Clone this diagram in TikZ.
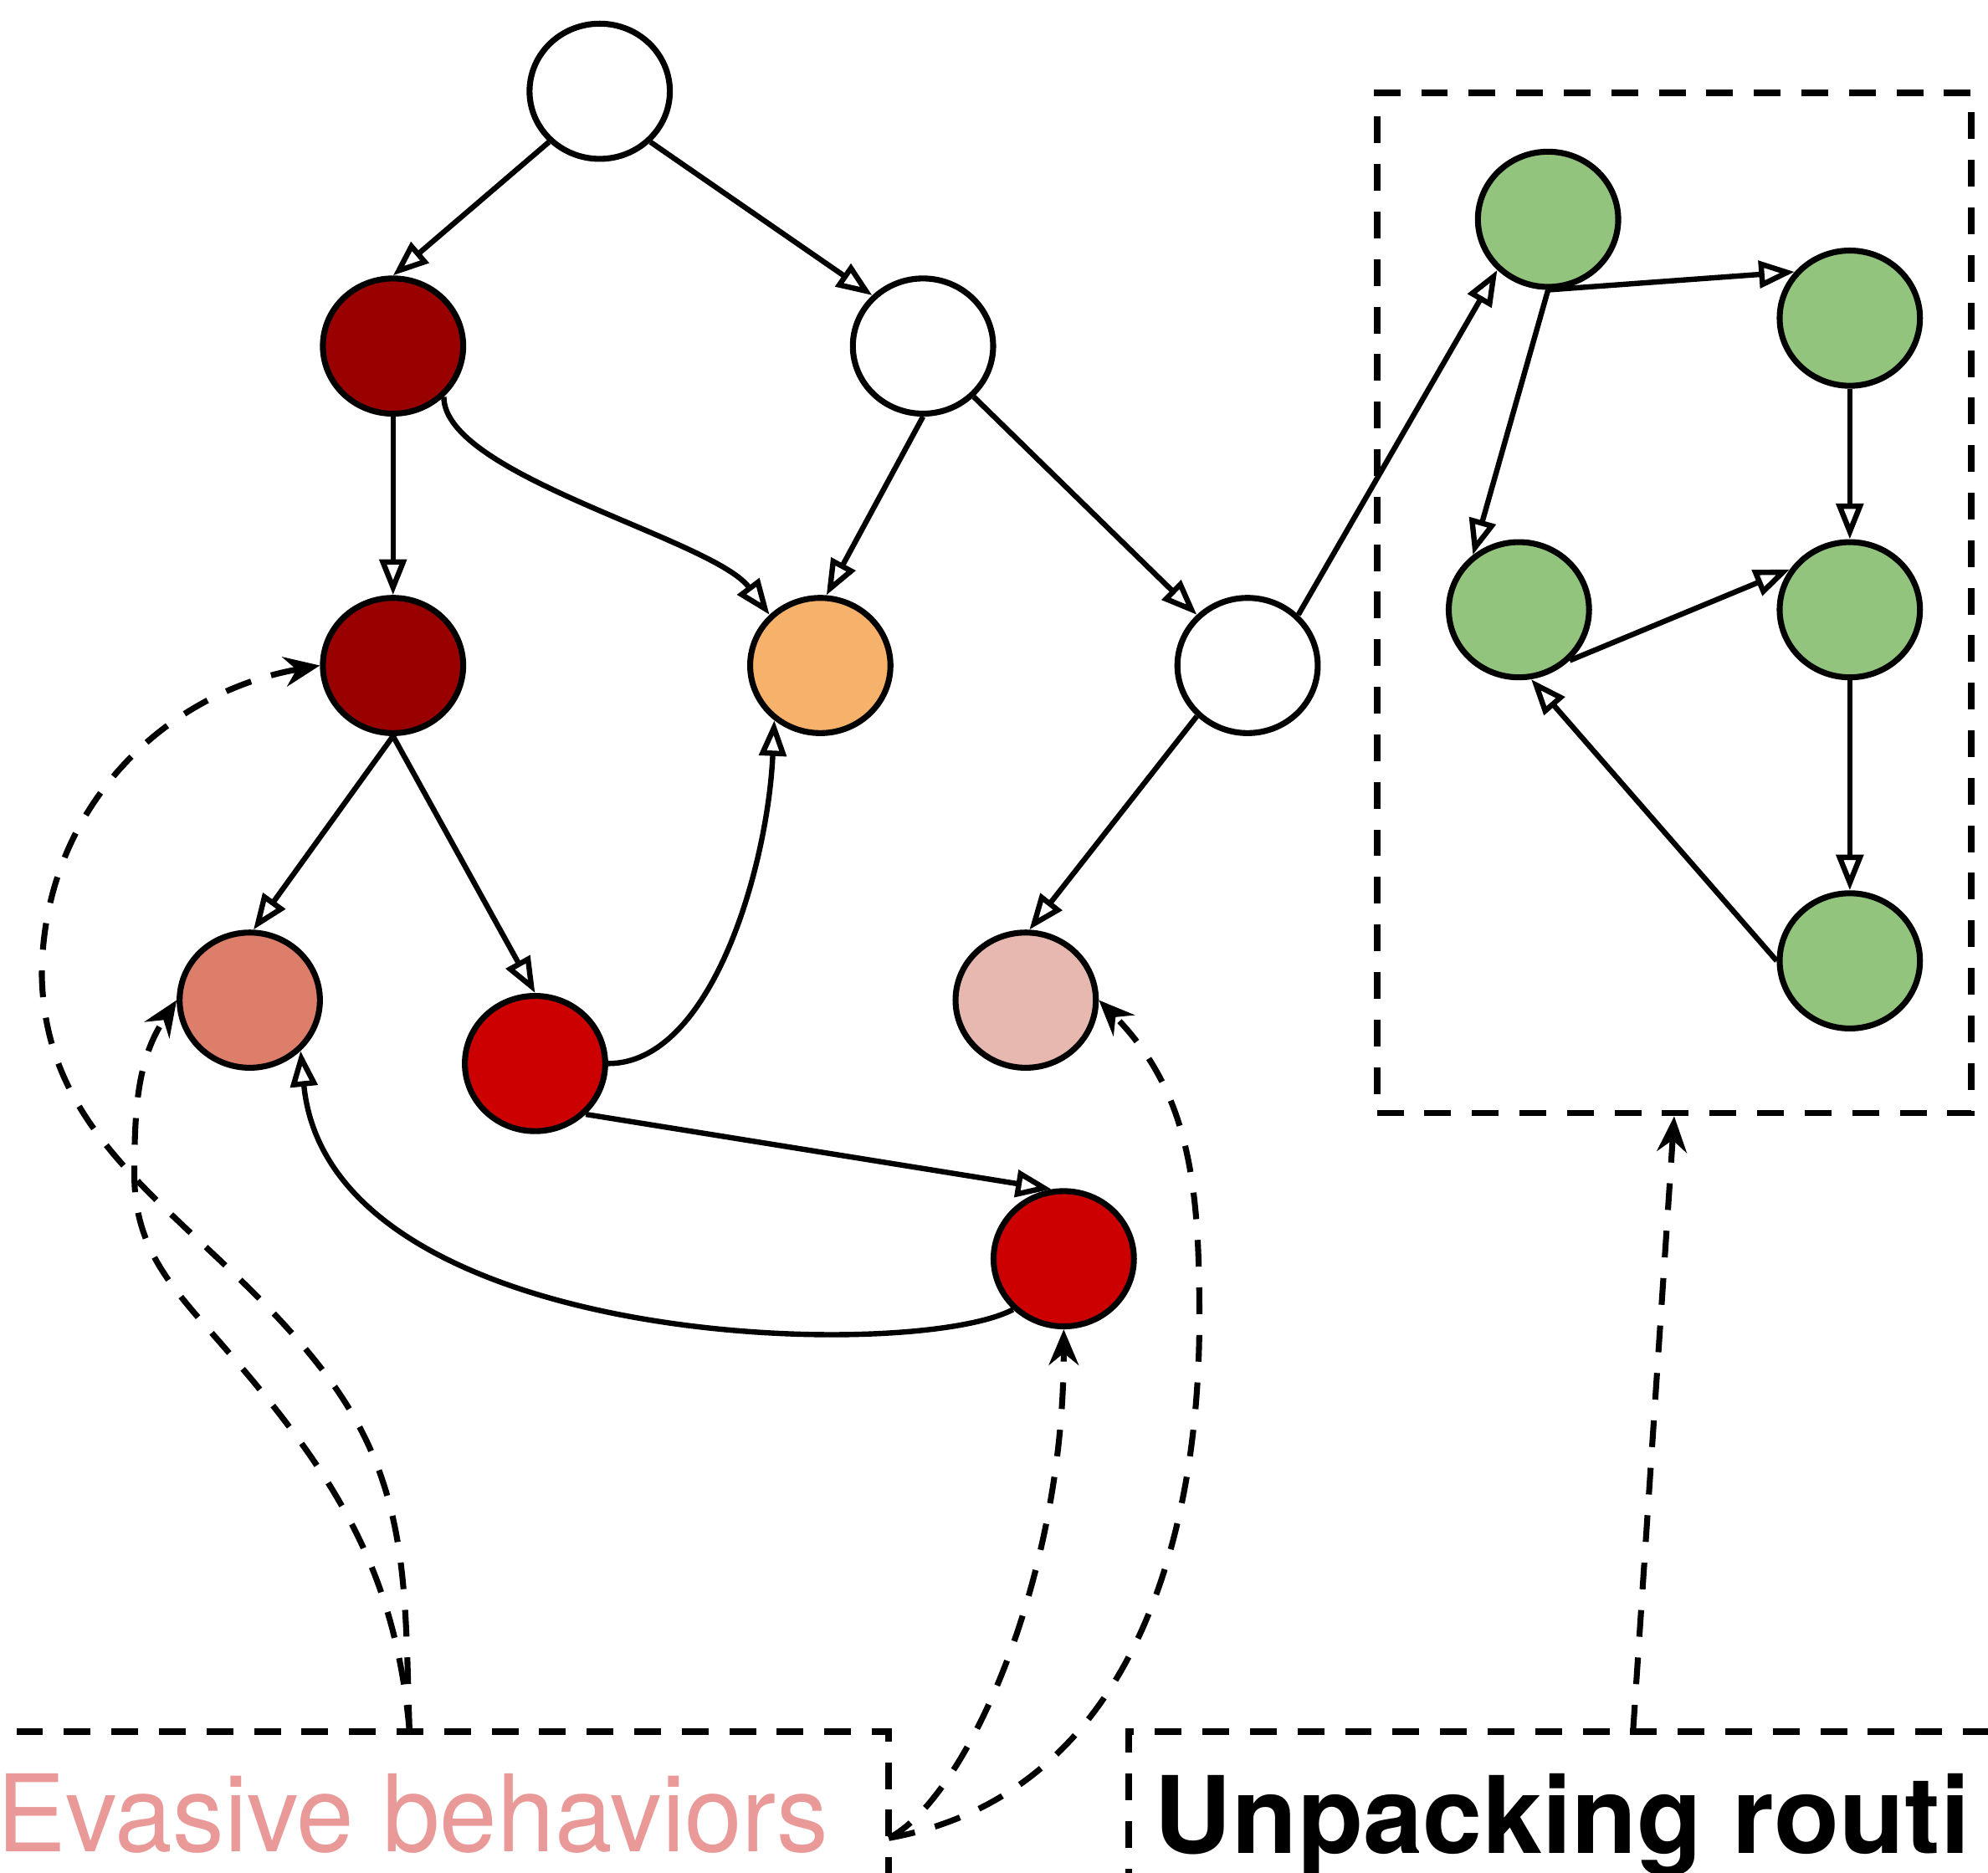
\documentclass[tikz,border=0pt]{standalone}
\usepackage{fontspec}
\usepackage{graphicx}
\newfontfamily\heros{TeX Gyre Heros}
\usetikzlibrary{shapes.geometric,arrows.meta}
\definecolor{dkred}{HTML}{990000}
\definecolor{redc}{HTML}{CC0000}
\definecolor{orng}{HTML}{F6B26B}
\definecolor{salm}{HTML}{DD7E6B}
\definecolor{pinkc}{HTML}{E6B8AF}
\definecolor{grn}{HTML}{93C47D}
\definecolor{evtxt}{HTML}{EA9999}
\tikzset{
  gnode/.style={ellipse, draw=black, line width=2pt, minimum width=1.66cm, minimum height=1.6cm, inner sep=0pt},
  edge/.style={line width=1.8pt, -{Triangle[open, length=12pt, width=9pt]}},
  dedge/.style={line width=2pt, dash pattern=on 9pt off 7pt, -{Stealth[length=12pt, width=10pt, inset=4pt]}},
  dbox/.style={draw, line width=2.2pt, dash pattern=on 9pt off 7pt, inner sep=0pt, rectangle},
  lbl/.style={anchor=base west, inner sep=0pt}
}
\begin{document}
\begin{tikzpicture}[x=0.015cm, y=-0.015cm]
\useasboundingbox (0,0) rectangle (1568,1477);
\clip (0,0) rectangle (1568,1477);
\fill[white] (0,0) rectangle (1568,1477);

% boxes
\node[dbox, minimum width=7.035cm, minimum height=12.075cm] (gbox) at (1320.5,475.5) {};
\node[dbox, minimum width=11.265cm, minimum height=2.91cm] (evbox) at (325.5,1463) {};
\node[dbox, minimum width=10.95cm, minimum height=2.91cm] (unbox) at (1255,1463) {};

\node[lbl, text=evtxt, font=\heros\fontsize{36pt}{40pt}\selectfont] (evtext) at (-3,1461) {\scalebox{0.965}[1]{Evasive behaviors}};
\node[lbl, font=\heros\bfseries\fontsize{36pt}{40pt}\selectfont] (untext) at (910,1462) {Unpacking routi};

% nodes
\node[gnode, fill=white] (n0) at (473,72) {};
\node[gnode, fill=dkred] (n1) at (310,273) {};
\node[gnode, fill=white] (n2) at (728,273) {};
\node[gnode, fill=dkred] (n3) at (310,525) {};
\node[gnode, fill=orng] (n4) at (647,525) {};
\node[gnode, fill=white] (n5) at (984,525) {};
\node[gnode, fill=salm] (n6) at (197,789) {};
\node[gnode, fill=redc] (n7) at (422,839) {};
\node[gnode, fill=pinkc] (n8) at (809,789) {};
\node[gnode, fill=redc] (n9) at (839,993) {};
\node[gnode, fill=grn] (g1) at (1221,173) {};
\node[gnode, fill=grn] (g2) at (1459,251) {};
\node[gnode, fill=grn] (g3) at (1198,481) {};
\node[gnode, fill=grn] (g4) at (1459,481) {};
\node[gnode, fill=grn] (g5) at (1459,758) {};

% solid edges
\draw[edge] (n0.225) -- (n1.north);
\draw[edge] (n0.-45) -- (n2.135);
\draw[edge] (n1.south) -- (n3.north);
\draw[edge] (n1.-45) .. controls +(0,62) and +(-45,-60) .. (n4.135);
\draw[edge] (n2.south) -- (n4.85);
\draw[edge] (n2.-45) -- (n5.135);
\draw[edge] (n3.south) -- (n6.87);
\draw[edge] (n3.south) -- (n7.north);
\draw[edge] (n5.-135) -- (n8.87);
\draw[edge] (n5.45) -- (g1.-135);
\draw[edge] (n7.east) .. controls +(82,0) and +(-5,114) .. (n4.-130);
\draw[edge] (n7.-45) -- (n9.100);
\draw[edge] (n9.-135) .. controls +(-79,42) and +(23,236) .. (n6.-45);
\draw[edge] (g1.south) -- (g2.140);
\draw[edge] (g1.south) -- (g3.130);
\draw[edge] (g2.south) -- (g4.north);
\draw[edge] (g3.-45) -- (g4.146);
\draw[edge] (g4.south) -- (g5.north);
\draw[edge] (g5.west) -- (g3.-80);

% dashed connectors
\coordinate (evtop) at (323,1366);
\coordinate (evright) at (701,1450);
\coordinate (untop) at (1288,1366);

\draw[dedge] (evtop) .. controls (319,1251) and (324,1170) .. (253,1079)
  .. controls (162,962) and (36,910) .. (33,770)
  .. controls (33,642) and (126,547) .. (n3.west);
\draw[dedge] (evtop) .. controls (312,1237) and (262,1161) .. (177,1063)
  .. controls (138,1018) and (106,987) .. (106,927)
  .. controls (106,871) and (109,835) .. (n6.west);
\draw[dedge] (evright) .. controls (760,1420) and (839,1250) .. (n9.south);
\draw[dedge] (evright) .. controls (885,1417) and (946,1227) .. (946,1040)
  .. controls (946,937) and (939,862) .. (n8.east);
\draw[dedge] (untop) -- (gbox.south);
\end{tikzpicture}
\end{document}
